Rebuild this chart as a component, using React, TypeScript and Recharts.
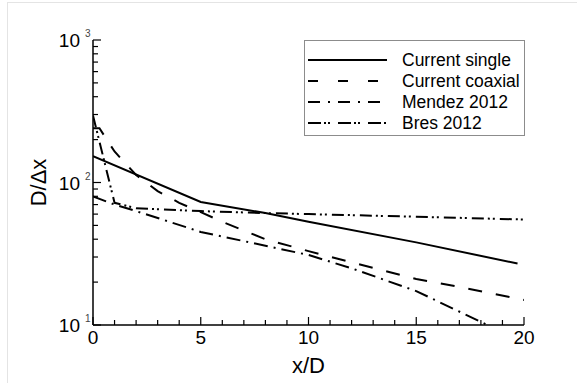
import React from "react";
import { LineChart, Line, XAxis, YAxis, Label } from "recharts";

// values (x/D, D/dx)
const singleX = [0, 5, 8, 10, 15, 19.7];
const singleY = [153, 73, 61, 53, 38, 27];

const coaxialX = [0, 0.3, 1, 2, 3, 4, 5, 6, 7, 8, 10, 12, 15, 17, 20];
const coaxialY = [240, 240, 165, 113, 87, 72, 62, 53, 46, 40, 33, 27.5, 21, 18.5, 15];

const mendezX = [0, 1, 2, 5, 8, 10, 12, 15, 18.3];
const mendezY = [80, 70, 63, 45, 36, 31, 25, 17.3, 10];

const bresX = [0, 1, 2, 5, 8, 10, 15, 20];
const bresY = [295, 72, 66, 63, 61, 60, 57.5, 55];

const xTicks = [0, 1, 2, 3, 4, 5, 6, 7, 8, 9, 10, 11, 12, 13, 14, 15, 16, 17, 18, 19, 20];
const yTicks = [
  10, 20, 30, 40, 50, 60, 70, 80, 90,
  100, 200, 300, 400, 500, 600, 700, 800, 900, 1000,
];

const toPoints = (xs: number[], ys: number[]) => xs.map((x, i) => ({ x, y: ys[i] }));

const SERIES = [
  { name: "Current single", data: toPoints(singleX, singleY), dash: undefined, legendDash: undefined },
  { name: "Current coaxial", data: toPoints(coaxialX, coaxialY), dash: "14 14", legendDash: "10 20" },
  { name: "Mendez 2012", data: toPoints(mendezX, mendezY), dash: "14 6 2 6", legendDash: "12 8 2 8" },
  { name: "Bres 2012", data: toPoints(bresX, bresY), dash: "12 4 2 3 2 5", legendDash: "13 3 2 2 2 8" },
];

const FONT = "'Liberation Sans', Arial, Helvetica, sans-serif";

const YTick = (props: any) => {
  const { x, y, payload } = props;
  const lg = Math.log10(payload.value);
  const exp = Math.round(lg);
  const major = Math.abs(lg - exp) < 1e-6;
  return (
    <g>
      <line x1={x} x2={x + (major ? 8 : 5)} y1={y} y2={y} stroke="#000" strokeWidth={1.2} />
      {major && (
        <g fontFamily={FONT} fill="#000">
          <text x={x - 13} y={y + 7} textAnchor="end" fontSize={19}>
            10
          </text>
          <text x={x - 8} y={y - 3} fontSize={10} fill="#444">
            {exp}
          </text>
        </g>
      )}
    </g>
  );
};

const XTick = (props: any) => {
  const { x, y, payload } = props;
  const major = payload.value % 5 === 0;
  return (
    <g>
      <line x1={x} x2={x} y1={y} y2={y - (major ? 8 : 5)} stroke="#000" strokeWidth={1.2} />
      {major && (
        <text x={x} y={y + 19} textAnchor="middle" fontSize={19} fontFamily={FONT} fill="#000">
          {payload.value}
        </text>
      )}
    </g>
  );
};

const LegendBox = () => (
  <svg
    width={221}
    height={96}
    style={{ position: "absolute", left: 304, top: 40 }}
  >
    <rect x={0.5} y={0.5} width={220} height={95} fill="#fff" stroke="#8c8c8c" />
    {SERIES.map((s, i) => (
      <g key={s.name}>
        <line
          x1={4}
          x2={83}
          y1={20 + i * 21}
          y2={20 + i * 21}
          stroke="#000"
          strokeWidth={2}
          strokeDasharray={s.legendDash}
        />
        <text x={98} y={26 + i * 21} fontSize={17.5} fontFamily={FONT} fill="#000">
          {s.name}
        </text>
      </g>
    ))}
  </svg>
);

export default function App() {
  return (
    <div style={{ position: "absolute", left: 0, top: 0, width: 577, height: 383, background: "#fff" }}>
      <div
        style={{
          position: "absolute",
          left: 7,
          top: 2,
          right: 0,
          bottom: 0,
          borderTop: "1px solid #e4e4e4",
          borderLeft: "1px solid #e4e4e4",
        }}
      />
      <LineChart width={577} height={383} margin={{ top: 40, right: 53, bottom: 0, left: 0 }}>
        <XAxis
          type="number"
          dataKey="x"
          domain={[0, 20]}
          ticks={xTicks}
          interval={0}
          allowDataOverflow
          height={58}
          tickSize={0}
          tickMargin={0}
          tickLine={false}
          tick={<XTick />}
          axisLine={{ stroke: "#000", strokeWidth: 1.5 }}
        >
          <Label
            value="x/D"
            position="insideBottom"
            offset={10}
            style={{ fontSize: 22, fontFamily: FONT, fill: "#000" }}
          />
        </XAxis>
        <YAxis
          type="number"
          dataKey="y"
          scale="log"
          domain={[10, 1000]}
          ticks={yTicks}
          interval={0}
          allowDataOverflow
          width={93}
          tickSize={0}
          tickMargin={0}
          tickLine={false}
          tick={<YTick />}
          axisLine={{ stroke: "#000", strokeWidth: 1.5 }}
        >
          <Label
            content={() => (
              <text
                x={38}
                y={182.5}
                transform="rotate(-90 38 182.5)"
                textAnchor="middle"
                dominantBaseline="central"
                fontSize={22}
                fontFamily={FONT}
                fill="#000"
              >
                D/Δx
              </text>
            )}
          />
        </YAxis>
        {SERIES.map((s) => (
          <Line
            key={s.name}
            data={s.data}
            dataKey="y"
            name={s.name}
            type="linear"
            stroke="#000"
            strokeWidth={2}
            strokeDasharray={s.dash}
            dot={false}
            activeDot={false}
            isAnimationActive={false}
          />
        ))}
      </LineChart>
      <LegendBox />
    </div>
  );
}
